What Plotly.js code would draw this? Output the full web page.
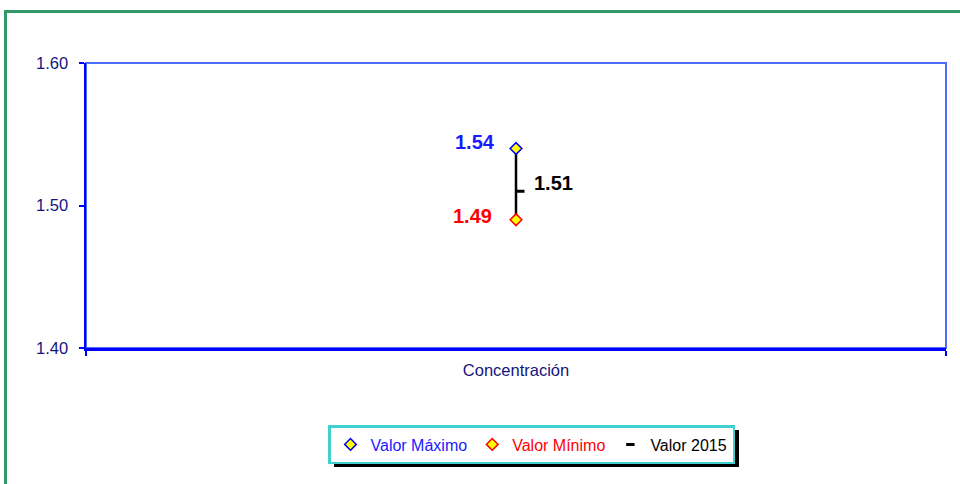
<!DOCTYPE html>
<html>
<head>
<meta charset="utf-8">
<script src="https://cdn.plot.ly/plotly-3.0.1.min.js"></script>
<style>html,body{margin:0;padding:0;background:#fff;}#chart{width:960px;height:484px;}</style>
</head>
<body>
<div id="chart"></div>
<script>
var categories = ['Concentración'];
var valorMaximo = [1.54];
var valorMinimo = [1.49];
var valor2015 = [1.51];
var yTickVals = [1.40, 1.50, 1.60];
var yTickText = ['1.40', '1.50', '1.60'];
var seriesNames = ['Valor Máximo', 'Valor Mínimo', 'Valor 2015'];

var FONT = 'Liberation Sans, Arial, sans-serif';
var NAVY = '#14147e';

var lineX = [], lineY = [];
categories.forEach(function (c, i) {
  lineX.push(c, c, null);
  lineY.push(valorMinimo[i], valorMaximo[i], null);
});

var traces = [
  {
    x: lineX, y: lineY, type: 'scatter', mode: 'lines',
    line: {color: '#000000', width: 2.5}, showlegend: false, hoverinfo: 'skip'
  },
  {
    x: categories, y: valorMaximo, type: 'scatter', mode: 'markers',
    name: '<span style="color:#1a1aff">' + seriesNames[0] + '</span>',
    marker: {symbol: 'diamond', size: 9, color: '#ffff00', line: {color: '#0000ff', width: 1.5}}
  },
  {
    x: categories, y: valorMinimo, type: 'scatter', mode: 'markers',
    name: '<span style="color:#ff0000">' + seriesNames[1] + '</span>',
    marker: {symbol: 'diamond', size: 9, color: '#ffff00', line: {color: '#ff0000', width: 1.5}}
  },
  {
    x: categories, y: valor2015, type: 'scatter', mode: 'markers', xaxis: 'x2',
    name: '<span style="color:#000000">' + seriesNames[2] + '</span>',
    marker: {symbol: 'line-ew', size: 6, color: '#000000', line: {color: '#000000', width: 3}}
  }
];

var annotations = [];
categories.forEach(function (c, i) {
  annotations.push({x: c, y: valorMaximo[i], xref: 'x', yref: 'y', text: '<b>' + valorMaximo[i].toFixed(2) + '</b>',
    showarrow: false, xanchor: 'right', yanchor: 'middle', xshift: -19, yshift: 7,
    font: {family: FONT, size: 20, color: '#1a1aff'}});
  annotations.push({x: c, y: valorMinimo[i], xref: 'x', yref: 'y', text: '<b>' + valorMinimo[i].toFixed(2) + '</b>',
    showarrow: false, xanchor: 'right', yanchor: 'middle', xshift: -22, yshift: 4,
    font: {family: FONT, size: 20, color: '#ff0000'}});
  annotations.push({x: c, y: valor2015[i], xref: 'x', yref: 'y', text: '<b>' + valor2015[i].toFixed(2) + '</b>',
    showarrow: false, xanchor: 'left', yanchor: 'middle', xshift: 16, yshift: 8,
    font: {family: FONT, size: 20, color: '#000000'}});
});

// plot area: x 86..946, y 63..348
function px(p) { return (p - 86) / 860; }
function py(p) { return (348 - p) / 285; }

var layout = {
  width: 960, height: 484,
  margin: {l: 86, r: 14, t: 63, b: 136, pad: 0},
  paper_bgcolor: '#ffffff', plot_bgcolor: '#ffffff',
  font: {family: FONT, color: NAVY, size: 16},
  showlegend: true,
  xaxis: {
    type: 'category', range: [-0.5, 0.5], fixedrange: true,
    showgrid: false, zeroline: false,
    showline: true, linecolor: '#0000ff', linewidth: 2.5,
    ticks: 'outside', tickson: 'boundaries', ticklen: 5, tickwidth: 2, tickcolor: '#0000ff',
    ticklabelstandoff: 6,
    tickfont: {family: FONT, size: 16.5, color: NAVY}
  },
  xaxis2: {
    type: 'category', overlaying: 'x', range: [-0.505, 0.495], visible: false, fixedrange: true
  },
  yaxis: {
    range: [1.40, 1.60], fixedrange: true,
    tickmode: 'array', tickvals: yTickVals, ticktext: yTickText,
    showgrid: false, zeroline: false,
    showline: true, linecolor: '#0000ff', linewidth: 2.5,
    ticks: 'outside', ticklen: 5, tickwidth: 2, tickcolor: '#0000ff',
    ticklabelstandoff: 7,
    tickfont: {family: FONT, size: 16.5, color: NAVY}
  },
  legend: {
    orientation: 'h', x: px(328), y: py(425), xanchor: 'left', yanchor: 'top',
    bgcolor: '#ffffff', bordercolor: '#40d0d0', borderwidth: 2.5,
    font: {family: FONT, size: 16, color: '#000000'},
    itemwidth: 30, tracegroupgap: 0
  },
  annotations: annotations,
  shapes: [
    {type: 'rect', xref: 'paper', yref: 'paper', x0: 0, x1: 1, y0: 0, y1: 1,
      line: {color: '#4a6cff', width: 2}, layer: 'below'},
    {type: 'rect', xref: 'paper', yref: 'paper', x0: px(334), x1: px(739), y0: py(430), y1: py(467),
      fillcolor: '#000000', line: {width: 0}, layer: 'above'},
    {type: 'rect', xref: 'paper', yref: 'paper', x0: px(5.5), x1: px(975), y0: py(11.5), y1: py(500),
      line: {color: '#339966', width: 3}, layer: 'below'}
  ]
};

Plotly.newPlot('chart', traces, layout, {staticPlot: true, displayModeBar: false});
</script>
</body>
</html>
